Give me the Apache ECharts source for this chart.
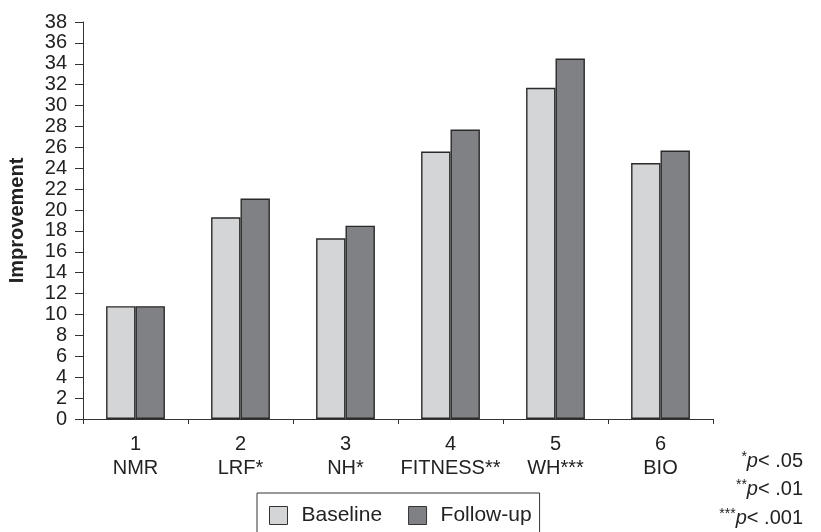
<!DOCTYPE html>
<html>
<head>
<meta charset="utf-8">
<script src="https://cdn.jsdelivr.net/npm/echarts@6/dist/echarts.min.js"></script>
<style>
  html, body { margin: 0; padding: 0; background: #fff; }
  #chart { width: 821px; height: 532px; }
</style>
</head>
<body>
<div id="chart"></div>
<script>
var categories = ['1\nNMR', '2\nLRF*', '3\nNH*', '4\nFITNESS**', '5\nWH***', '6\nBIO']
var baseline = [10.8, 19.3, 17.3, 25.6, 31.7, 24.5]
var followUp = [10.8, 21.1, 18.5, 27.7, 34.5, 25.7]
var yMin = 0
var yMax = 38
var yStep = 2

var font = '"Liberation Sans", Arial, sans-serif'
var chart = echarts.init(document.getElementById('chart'))

// footnote rows: stars are drawn small and raised
function noteStyle(text) {
  return {
    text: text,
    align: 'right',
    rich: {
      s: { fontSize: 14, fontFamily: font, fill: '#222', padding: [0, 0, 9, 0] },
      i: { fontSize: 20, fontFamily: font, fontStyle: 'italic', fill: '#222' },
      n: { fontSize: 20, fontFamily: font, fill: '#222' }
    }
  }
}

chart.setOption({
  backgroundColor: '#ffffff',
  animation: false,
  textStyle: { fontFamily: font, color: '#222' },
  grid: {
    left: 83,
    right: 108,
    top: 22,
    bottom: 113,
    containLabel: false,
    outerBoundsMode: 'none'
  },
  legend: {
    left: 257,
    top: 493,
    itemWidth: 18,
    itemHeight: 18,
    itemGap: 26,
    padding: [12, 8, 14, 12],
    borderColor: '#333',
    borderWidth: 1,
    icon: 'rect',
    data: ['Baseline', 'Follow-up'],
    itemStyle: {
      borderColor: '#333',
      borderWidth: 1
    },
    textStyle: {
      fontFamily: font,
      fontSize: 21,
      color: '#222',
      padding: [0, 0, 0, 9]
    }
  },
  xAxis: {
    type: 'category',
    data: categories,
    axisLine: { lineStyle: { color: '#333', width: 1 } },
    axisTick: { show: true, length: 5, lineStyle: { color: '#333' } },
    axisLabel: {
      interval: 0,
      margin: 13,
      fontFamily: font,
      fontSize: 20,
      lineHeight: 24,
      color: '#222'
    }
  },
  yAxis: {
    type: 'value',
    min: yMin,
    max: yMax,
    interval: yStep,
    name: 'Improvement',
    nameLocation: 'middle',
    nameRotate: 90,
    nameGap: 56,
    nameTextStyle: {
      fontFamily: font,
      fontSize: 20,
      fontWeight: 'bold',
      color: '#222'
    },
    axisLine: { show: true, lineStyle: { color: '#333', width: 1 } },
    axisTick: { show: true, length: 8, lineStyle: { color: '#333' } },
    splitLine: { show: false },
    axisLabel: {
      margin: 16,
      fontFamily: font,
      fontSize: 20,
      color: '#222'
    }
  },
  series: [
    {
      name: 'Baseline',
      type: 'bar',
      data: baseline,
      barGap: '0%',
      barCategoryGap: '44%',
      itemStyle: {
        color: '#d4d5d7',
        borderColor: '#2a2a2a',
        borderWidth: 1.4
      }
    },
    {
      name: 'Follow-up',
      type: 'bar',
      data: followUp,
      barGap: '0%',
      barCategoryGap: '44%',
      itemStyle: {
        color: '#808185',
        borderColor: '#2a2a2a',
        borderWidth: 1.4
      }
    }
  ],
  graphic: [
    { type: 'text', right: 18, top: 450, style: noteStyle('{s|*}{i|p}{n|< .05}') },
    { type: 'text', right: 18, top: 478, style: noteStyle('{s|**}{i|p}{n|< .01}') },
    { type: 'text', right: 18, top: 507, style: noteStyle('{s|***}{i|p}{n|< .001}') }
  ]
})
</script>
</body>
</html>
